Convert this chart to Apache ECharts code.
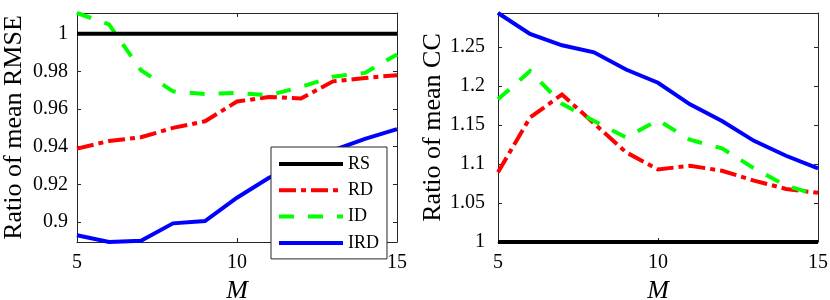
<!DOCTYPE html>
<html>
<head>
<meta charset="utf-8">
<script src="https://cdn.jsdelivr.net/npm/echarts@6/dist/echarts.min.js"></script>
<style>
html,body{margin:0;padding:0;background:#fff;}
#c{width:830px;height:300px;}
</style>
</head>
<body>
<div id="c"></div>
<script>
const M = [5, 6, 7, 8, 9, 10, 11, 12, 13, 14, 15];
const seriesNames = ['RS', 'RD', 'ID', 'IRD'];

// Left panel: ratio of mean RMSE
const rmseRS  = [1, 1, 1, 1, 1, 1, 1, 1, 1, 1, 1];
const rmseRD  = [0.939, 0.943, 0.945, 0.950, 0.9535, 0.964, 0.9664, 0.9656, 0.9747, 0.9765, 0.978];
const rmseID  = [1.011, 1.005, 0.9806, 0.9694, 0.968, 0.9686, 0.9673, 0.9717, 0.9772, 0.9792, 0.989];
const rmseIRD = [0.893, 0.8894, 0.890, 0.8993, 0.9005, 0.9129, 0.9235, 0.931, 0.938, 0.9442, 0.9493];

// Right panel: ratio of mean CC
const ccRS  = [1, 1, 1, 1, 1, 1, 1, 1, 1, 1, 1];
const ccRD  = [1.0893, 1.1594, 1.189, 1.152, 1.115, 1.093, 1.0977, 1.0913, 1.0786, 1.068, 1.063];
const ccID  = [1.1828, 1.219, 1.177, 1.155, 1.134, 1.156, 1.131, 1.120, 1.0944, 1.0722, 1.0603];
const ccIRD = [1.2934, 1.2666, 1.252, 1.243, 1.221, 1.204, 1.1764, 1.155, 1.1296, 1.1105, 1.0944];

// Tick labels
const xTicks = [5, 10, 15];
const rmseTicks = [0.9, 0.92, 0.94, 0.96, 0.98, 1];
const ccTicks = [1, 1.05, 1.1, 1.15, 1.2, 1.25];

const FONT = '"Liberation Serif", "Times New Roman", serif';
const AX = '#262626';
const colors = {RS: '#000000', RD: '#ff0000', ID: '#00ff00', IRD: '#0000ff'};
const dashes = {RS: 'solid', RD: [17, 5, 5, 5], ID: [15, 14], IRD: 'solid'};

function pairs(ys) { return M.map((m, i) => [m, ys[i]]); }

function xAxes(gi) {
  return [
    {
      type: 'value', gridIndex: gi, min: 5, max: 15,
      name: 'M', nameLocation: 'middle', nameGap: 33,
      nameTextStyle: {fontFamily: FONT, fontSize: 26, fontStyle: 'italic', color: '#000'},
      axisLine: {show: true, lineStyle: {color: AX, width: 1}},
      axisTick: {show: true, inside: true, length: 4, lineStyle: {color: AX}, customValues: xTicks},
      axisLabel: {fontFamily: FONT, fontSize: 20, color: '#000', margin: 11, customValues: xTicks},
      splitLine: {show: false}
    },
    {
      type: 'value', gridIndex: gi, min: 5, max: 15, position: 'top',
      axisLine: {show: true, lineStyle: {color: AX, width: 1}},
      axisTick: {show: true, inside: true, length: 4, lineStyle: {color: AX}, customValues: xTicks},
      axisLabel: {show: false},
      splitLine: {show: false}
    }
  ];
}

function yAxes(gi, min, max, ticks, name, margin) {
  return [
    {
      type: 'value', gridIndex: gi, min: min, max: max,
      name: name, nameLocation: 'middle', nameGap: 50, nameRotate: 90,
      nameTextStyle: {fontFamily: FONT, fontSize: 26, color: '#000'},
      axisLine: {show: true, lineStyle: {color: AX, width: 1}},
      axisTick: {show: true, inside: true, length: 4, lineStyle: {color: AX}, customValues: ticks},
      axisLabel: {fontFamily: FONT, fontSize: 20, color: '#000', margin: margin, customValues: ticks},
      splitLine: {show: false}
    },
    {
      type: 'value', gridIndex: gi, min: min, max: max, position: 'right',
      axisLine: {show: true, lineStyle: {color: AX, width: 1}},
      axisTick: {show: true, inside: true, length: 4, lineStyle: {color: AX}, customValues: ticks},
      axisLabel: {show: false},
      splitLine: {show: false}
    }
  ];
}

function mkSeries(name, ys, xi, yi) {
  return {
    name: name, type: 'line', data: pairs(ys),
    xAxisIndex: xi, yAxisIndex: yi,
    showSymbol: false, symbol: 'none',
    lineStyle: {color: colors[name], width: 4, type: dashes[name], cap: 'butt', join: 'miter'},
    itemStyle: {color: colors[name]},
    z: name === 'RS' ? 3 : 2,
    animation: false
  };
}

const option = {
  animation: false,
  backgroundColor: '#fff',
  textStyle: {fontFamily: FONT},
  grid: [
    {left: 77, top: 13, width: 320, height: 229, containLabel: false, outerBoundsMode: 'none'},
    {left: 498, top: 13, width: 320, height: 229, containLabel: false, outerBoundsMode: 'none'}
  ],
  xAxis: [...xAxes(0), ...xAxes(1)],
  yAxis: [
    ...yAxes(0, 0.8894, 1.011, rmseTicks, 'Ratio of mean RMSE', 9),
    ...yAxes(1, 1, 1.2934, ccTicks, 'Ratio of mean CC', 13)
  ],
  legend: {
    orient: 'vertical',
    left: 271, top: 147,
    padding: [8, 8, 7, 6],
    itemWidth: 64, itemHeight: 14, itemGap: 8.3,
    backgroundColor: '#fff',
    borderColor: AX, borderWidth: 1,
    itemStyle: {color: 'transparent', borderColor: 'transparent', borderWidth: 0, opacity: 0},
    lineStyle: {width: 4, cap: 'butt'},
    textStyle: {fontFamily: FONT, fontSize: 18, color: '#000', lineHeight: 14},
    data: seriesNames,
    z: 10
  },
  series: [
    mkSeries('RS', rmseRS, 0, 0),
    mkSeries('RD', rmseRD, 0, 0),
    mkSeries('ID', rmseID, 0, 0),
    mkSeries('IRD', rmseIRD, 0, 0),
    mkSeries('RS', ccRS, 2, 2),
    mkSeries('RD', ccRD, 2, 2),
    mkSeries('ID', ccID, 2, 2),
    mkSeries('IRD', ccIRD, 2, 2)
  ]
};

const chart = echarts.init(document.getElementById('c'), null, {renderer: 'canvas'});
chart.setOption(option);
</script>
</body>
</html>
